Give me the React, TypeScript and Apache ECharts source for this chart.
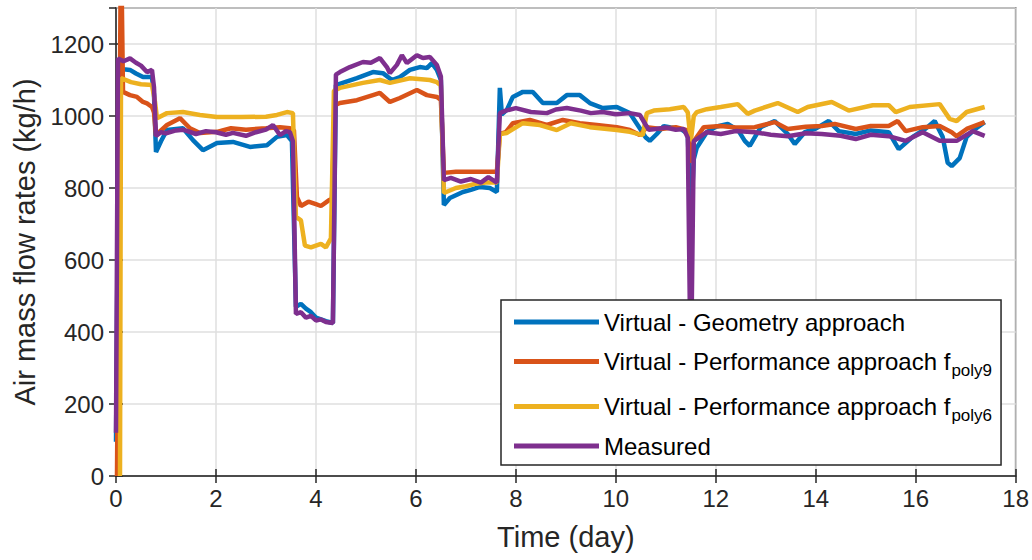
import React, { useEffect, useRef } from "react";
import * as echarts from "echarts";

// ---- data (time in days, flow in kg/h) ----
const geoTime = [0, 0.06, 0.15, 0.28, 0.4, 0.54, 0.72, 0.76, 0.8, 0.9, 1.02, 1.34, 1.54, 1.74, 2.02, 2.34, 2.68, 3.02, 3.22, 3.42, 3.52, 3.6, 3.7, 3.8, 3.9, 4.0, 4.2, 4.34, 4.4, 4.82, 5.14, 5.34, 5.52, 5.68, 5.88, 6.08, 6.22, 6.32, 6.42, 6.5, 6.56, 6.68, 6.94, 7.1, 7.28, 7.48, 7.62, 7.68, 7.72, 7.82, 7.94, 8.14, 8.34, 8.54, 8.82, 9.02, 9.28, 9.48, 9.74, 10.02, 10.28, 10.48, 10.6, 10.68, 10.82, 10.96, 11.1, 11.3, 11.44, 11.5, 11.56, 11.62, 11.82, 12.0, 12.24, 12.45, 12.58, 12.68, 12.9, 13.18, 13.44, 13.58, 13.78, 14.0, 14.26, 14.46, 14.8, 15.1, 15.46, 15.66, 15.94, 16.2, 16.38, 16.54, 16.64, 16.72, 16.88, 17.02, 17.2, 17.38];
const geoFlow = [95, 1136, 1130, 1128, 1118, 1108, 1108, 1060, 900, 930, 961, 966, 933, 905, 925, 928, 914, 919, 942, 947, 930, 470, 478, 465, 455, 440, 430, 425, 1086, 1105, 1122, 1119, 1100, 1108, 1128, 1136, 1133, 1147, 1128, 1100, 753, 772, 789, 795, 803, 800, 789, 1078, 1005, 1017, 1053, 1067, 1067, 1036, 1036, 1058, 1058, 1036, 1022, 1025, 1008, 966, 940, 931, 950, 972, 968, 964, 950, 700, 880, 912, 955, 970, 978, 960, 931, 917, 969, 986, 950, 922, 955, 965, 986, 958, 950, 960, 955, 908, 942, 965, 986, 942, 870, 861, 883, 942, 965, 983];

const poly9Time = [0.02, 0.1, 0.14, 0.28, 0.42, 0.54, 0.62, 0.72, 0.76, 0.8, 0.9, 1.02, 1.28, 1.48, 1.68, 2.02, 2.3, 2.6, 3.0, 3.28, 3.48, 3.56, 3.62, 3.7, 3.85, 4.0, 4.1, 4.25, 4.32, 4.38, 4.48, 4.82, 5.14, 5.28, 5.48, 5.68, 6.02, 6.22, 6.42, 6.5, 6.56, 6.8, 7.2, 7.62, 7.68, 7.8, 7.94, 8.28, 8.62, 8.94, 9.28, 9.62, 10.02, 10.28, 10.48, 10.62, 10.9, 11.2, 11.44, 11.5, 11.56, 11.76, 12.1, 12.4, 12.78, 13.18, 13.44, 13.8, 14.12, 14.38, 14.8, 15.1, 15.46, 15.64, 15.8, 16.14, 16.48, 16.72, 16.82, 17.02, 17.38];
const poly9Flow = [0, 1500, 1067, 1058, 1053, 1039, 1035, 1025, 1010, 945, 960, 975, 994, 966, 953, 956, 966, 962, 966, 969, 966, 960, 775, 750, 762, 755, 750, 765, 770, 1030, 1036, 1044, 1058, 1064, 1039, 1050, 1072, 1058, 1053, 1045, 842, 845, 845, 845, 950, 955, 980, 989, 975, 989, 980, 975, 969, 961, 947, 969, 964, 969, 960, 870, 930, 969, 972, 968, 969, 983, 964, 970, 972, 978, 964, 972, 972, 986, 958, 969, 972, 955, 944, 964, 983];

const poly6Time = [0.08, 0.1, 0.3, 0.5, 0.72, 0.78, 0.82, 1.02, 1.34, 1.68, 2.02, 2.5, 3.0, 3.22, 3.42, 3.54, 3.6, 3.7, 3.78, 3.9, 4.0, 4.1, 4.2, 4.3, 4.36, 4.48, 4.94, 5.28, 5.48, 5.88, 6.28, 6.42, 6.5, 6.56, 6.8, 7.0, 7.2, 7.4, 7.62, 7.68, 7.82, 8.14, 8.48, 8.82, 9.1, 9.48, 10.02, 10.28, 10.54, 10.62, 10.76, 11.08, 11.36, 11.44, 11.5, 11.56, 11.62, 11.82, 12.1, 12.44, 12.64, 12.78, 13.24, 13.64, 13.84, 14.32, 14.66, 15.14, 15.46, 15.6, 15.88, 16.48, 16.68, 16.82, 17.02, 17.38];
const poly6Flow = [0, 1105, 1094, 1088, 1086, 1040, 994, 1008, 1011, 1003, 997, 997, 998, 1003, 1011, 1008, 720, 710, 640, 635, 640, 645, 635, 660, 1070, 1078, 1092, 1100, 1092, 1105, 1100, 1094, 1085, 786, 800, 805, 812, 815, 815, 950, 953, 980, 975, 961, 980, 969, 961, 956, 947, 1008, 1015, 1019, 1025, 1010, 930, 1000, 1011, 1019, 1025, 1033, 1006, 1015, 1036, 1011, 1025, 1039, 1015, 1030, 1030, 1011, 1025, 1033, 992, 986, 1011, 1025];

const measTime = [0, 0.04, 0.15, 0.28, 0.4, 0.5, 0.62, 0.72, 0.76, 0.8, 0.9, 1.0, 1.2, 1.34, 1.6, 1.8, 2.0, 2.2, 2.34, 2.6, 2.8, 3.0, 3.14, 3.28, 3.4, 3.48, 3.54, 3.6, 3.7, 3.8, 3.9, 4.0, 4.1, 4.2, 4.34, 4.4, 4.48, 4.68, 4.94, 5.1, 5.28, 5.42, 5.48, 5.62, 5.72, 5.82, 6.02, 6.14, 6.28, 6.42, 6.5, 6.56, 6.7, 6.9, 7.1, 7.3, 7.45, 7.62, 7.68, 7.8, 8.0, 8.3, 8.62, 8.8, 9.02, 9.3, 9.5, 9.74, 10.0, 10.28, 10.48, 10.6, 10.66, 10.8, 11.0, 11.2, 11.36, 11.44, 11.5, 11.56, 11.62, 11.82, 12.1, 12.4, 12.78, 13.1, 13.44, 13.8, 14.12, 14.5, 14.8, 15.1, 15.46, 15.8, 16.14, 16.48, 16.82, 17.14, 17.38];
const measFlow = [120, 1160, 1152, 1160, 1148, 1140, 1122, 1128, 1080, 945, 955, 952, 960, 962, 950, 958, 955, 948, 953, 945, 955, 962, 975, 947, 958, 955, 930, 450, 455, 440, 445, 432, 435, 428, 425, 1115, 1122, 1136, 1150, 1148, 1161, 1136, 1119, 1142, 1169, 1147, 1169, 1161, 1164, 1142, 1110, 822, 828, 818, 825, 815, 830, 815, 1008, 1015, 1022, 1011, 1008, 1018, 1022, 1015, 1008, 1011, 1005, 1008, 1003, 975, 962, 964, 968, 962, 964, 940, 250, 930, 936, 955, 950, 958, 955, 948, 944, 952, 950, 945, 936, 948, 944, 931, 955, 931, 931, 958, 945];

const seriesNames = [
  "Virtual - Geometry approach",
  "Virtual - Performance approach f_poly9",
  "Virtual - Performance approach f_poly6",
  "Measured",
];
const seriesColors = ["#0072BD", "#D95319", "#EDB120", "#7E2F8E"];

const zip = (t: number[], v: number[]) => t.map((x, i) => [x, v[i]]);

const FONT = "Liberation Sans, Arial, Helvetica, sans-serif";

export default function App() {
  const ref = useRef<HTMLDivElement>(null);
  useEffect(() => {
    if (!ref.current) return;
    const chart = echarts.init(ref.current, undefined, { renderer: "svg" });
    const datasets = [
      zip(geoTime, geoFlow),
      zip(poly9Time, poly9Flow),
      zip(poly6Time, poly6Flow),
      zip(measTime, measFlow),
    ];
    const axisCommonX = {
      type: "value" as const,
      min: 0,
      max: 18,
      interval: 2,
    };
    const axisCommonY = {
      type: "value" as const,
      min: 0,
      max: 1300,
      interval: 200,
    };
    chart.setOption({
      animation: false,
      backgroundColor: "#ffffff",
      textStyle: { fontFamily: FONT },
      grid: {
        left: 116,
        right: 16,
        top: 8,
        bottom: 84,
        show: true,
        borderColor: "#262626",
        borderWidth: 1.5,
        backgroundColor: "#ffffff",
      },
      xAxis: [
        {
          ...axisCommonX,
          position: "bottom",
          name: "Time (day)",
          nameLocation: "middle",
          nameGap: 46,
          nameTextStyle: { fontSize: 29, color: "#262626", fontFamily: FONT },
          axisLine: { show: true, onZero: false, lineStyle: { color: "#262626", width: 1.5 } },
          axisTick: { show: true, inside: true, length: 7, lineStyle: { color: "#262626", width: 1.5 } },
          axisLabel: { fontSize: 24, color: "#262626", margin: 10, fontFamily: FONT },
          splitLine: { show: true, lineStyle: { color: "#dfdfdf", width: 1.5 } },
        },
        {
          ...axisCommonX,
          position: "top",
          axisLine: { show: false },
          axisTick: { show: true, inside: true, length: 7, lineStyle: { color: "#262626", width: 1.5 } },
          axisLabel: { show: false },
          splitLine: { show: false },
        },
      ],
      yAxis: [
        {
          ...axisCommonY,
          position: "left",
          name: "Air mass flow rates (kg/h)",
          nameLocation: "middle",
          nameGap: 68,
          nameTextStyle: { fontSize: 29, color: "#262626", fontFamily: FONT },
          axisLine: { show: true, onZero: false, lineStyle: { color: "#262626", width: 1.5 } },
          axisTick: { show: true, inside: true, length: 7, lineStyle: { color: "#262626", width: 1.5 } },
          axisLabel: {
            fontSize: 24,
            color: "#262626",
            margin: 12,
            fontFamily: FONT,
            showMaxLabel: false,
            formatter: (v: number) => (v % 200 === 0 ? String(v) : ""),
          },
          splitLine: { show: true, lineStyle: { color: "#dfdfdf", width: 1.5 } },
        },
        {
          ...axisCommonY,
          position: "right",
          axisLine: { show: false },
          axisTick: { show: true, inside: true, length: 7, lineStyle: { color: "#262626", width: 1.5 } },
          axisLabel: { show: false },
          splitLine: { show: false },
        },
      ],
      legend: {
        orient: "vertical",
        left: 501,
        top: 300,
        z: 50,
        zlevel: 0,
        backgroundColor: "#ffffff",
        borderColor: "#262626",
        borderWidth: 1.5,
        borderRadius: 0,
        padding: [10, 9, 7, 13],
        itemGap: 10,
        itemWidth: 85,
        itemHeight: 5,
        icon: "rect",
        data: seriesNames,
        textStyle: {
          fontFamily: FONT,
          fontSize: 24,
          color: "#000000",
          rich: {
            m: { fontSize: 24, lineHeight: 32, color: "#000000", fontFamily: FONT },
            s: {
              fontSize: 17,
              lineHeight: 20,
              color: "#000000",
              fontFamily: FONT,
              padding: [18, 0, 0, 1],
            },
          },
        },
        formatter: (name: string) => {
          const parts = name.split("_");
          if (parts.length === 2) return `{m|${parts[0]}}{s|${parts[1]}}`;
          return `{m|${name}}`;
        },
      },
      series: seriesNames.map((name, i) => ({
        name,
        type: "line",
        xAxisIndex: 0,
        yAxisIndex: 0,
        data: datasets[i],
        showSymbol: false,
        symbol: "none",
        clip: true,
        lineStyle: { color: seriesColors[i], width: 4.5 },
        itemStyle: { color: seriesColors[i] },
        z: 2,
      })),
    });
    return () => chart.dispose();
  }, []);
  return <div ref={ref} style={{ width: 1032, height: 560, position: "absolute", left: 0, top: 0 }} />;
}
